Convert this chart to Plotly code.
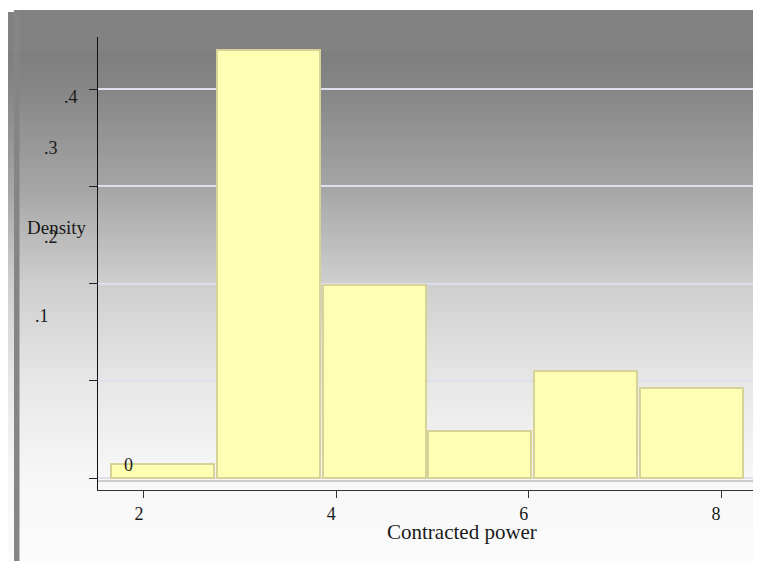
import plotly.graph_objects as go

# ---- data ----
bin_centers = [2.196, 3.295, 4.394, 5.493, 6.592, 7.691]
densities = [0.015, 0.440, 0.199, 0.049, 0.1106, 0.0925]
bin_width = 1.099
x_tick_vals = [2, 4, 6, 8]
x_tick_text = ["2", "4", "6", "8"]
y_tick_vals = [0, 0.1, 0.2, 0.3, 0.4]
y_label_text = ["0", ".1", ".2", ".3", ".4"]
x_title = "Contracted power"
y_title = "Density"

# ---- layout geometry (window pixels; page body has an 8px margin) ----
OFF = 8
W, H = 761, 561
L, R, T, B = 98, 757, 37, 490          # plot area in window pixels
pw, ph = R - L, B - T


def px(x):
    return (x - L) / pw


def py(y):
    return (B - y) / ph


FONT = "Liberation Serif, Times New Roman, serif"

fig = go.Figure()
fig.add_trace(go.Bar(
    x=bin_centers, y=densities, width=bin_width * 0.975,
    marker=dict(color="#ffffb3", line=dict(color="#d6d298", width=2)),
    hoverinfo="x+y",
))

shapes = []
# background gradient
stops = [(52, 126), (90, 134), (187, 165), (280, 205), (381, 231), (478, 247), (561, 251), (600, 252)]


def grey_at(y):
    for (y0, g0), (y1, g1) in zip(stops[:-1], stops[1:]):
        if y0 <= y <= y1:
            return g0 + (g1 - g0) * (y - y0) / (y1 - y0)
    return stops[-1][1]


step = 4
y = 52
while y < 600:
    g = int(round(grey_at(y + step / 2)))
    shapes.append(dict(type="rect", xref="paper", yref="paper", layer="below",
                       x0=px(8), x1=px(800), y0=py(y), y1=py(y + step + 0.5),
                       fillcolor=f"rgb({g},{g},{g})", line=dict(width=0)))
    y += step
# top band
shapes.append(dict(type="rect", xref="paper", yref="paper", layer="below",
                   x0=px(14), x1=px(800), y0=py(10), y1=py(52.5),
                   fillcolor="rgb(129,129,129)", line=dict(width=0)))
shapes.append(dict(type="rect", xref="paper", yref="paper", layer="below",
                   x0=px(8), x1=px(14), y0=py(12), y1=py(52.5),
                   fillcolor="rgb(129,129,129)", line=dict(width=0)))
# left dark strip
shapes.append(dict(type="rect", xref="paper", yref="paper", layer="below",
                   x0=px(14), x1=px(19.5), y0=py(10), y1=py(600),
                   fillcolor="rgb(133,133,133)", line=dict(width=0)))
# inner plot frame (right and bottom)
shapes.append(dict(type="line", xref="paper", yref="paper", layer="below",
                   x0=px(756), x1=px(756), y0=py(52), y1=py(481),
                   line=dict(color="rgb(150,150,150)", width=1)))
shapes.append(dict(type="line", xref="paper", yref="paper", layer="below",
                   x0=px(98), x1=px(757), y0=py(481), y1=py(481),
                   line=dict(color="rgb(160,160,160)", width=1)))

annotations = []
# y tick labels (placed as drawn in the reference)
label_pos = [(128.5, 465), (42, 316), (51, 237), (51, 148), (71, 97)]
for txt, (lx, ly) in zip(y_label_text, label_pos):
    annotations.append(dict(text=txt, xref="paper", yref="paper", x=px(lx), y=py(ly),
                            xanchor="center", yanchor="middle", showarrow=False,
                            font=dict(family=FONT, size=18, color="#1a1a1a")))
annotations.append(dict(text=y_title, xref="paper", yref="paper", x=px(57), y=py(227),
                        xanchor="center", yanchor="middle", showarrow=False,
                        font=dict(family=FONT, size=19, color="#1a1a1a")))
annotations.append(dict(text=x_title, xref="paper", yref="paper", x=px(462), y=py(532),
                        xanchor="center", yanchor="middle", showarrow=False,
                        font=dict(family=FONT, size=21, color="#1a1a1a")))

fig.update_layout(
    width=W, height=H,
    margin=dict(l=L - OFF, r=W - (R - OFF), t=T - OFF, b=H - (B - OFF), pad=0),
    paper_bgcolor="white", plot_bgcolor="rgba(0,0,0,0)",
    showlegend=False, bargap=0,
    shapes=shapes, annotations=annotations,
    font=dict(family=FONT, size=18, color="#1a1a1a"),
    xaxis=dict(range=[1.5225, 8.374], tickvals=x_tick_vals, ticktext=x_tick_text,
               showgrid=False, zeroline=False, showline=True, linecolor="#333", linewidth=1,
               ticks="outside", ticklen=7, tickcolor="#333", ticklabelshift=-5,
               tickfont=dict(family=FONT, size=18, color="#1a1a1a")),
    yaxis=dict(range=[-0.0121, 0.4535], tickvals=y_tick_vals, showticklabels=False,
               showgrid=True, gridcolor="#dde0ea", gridwidth=2, zeroline=False,
               showline=True, linecolor="#111", linewidth=1,
               ticks="outside", ticklen=8, tickcolor="#222"),
)

fig.write_html("out.html")
